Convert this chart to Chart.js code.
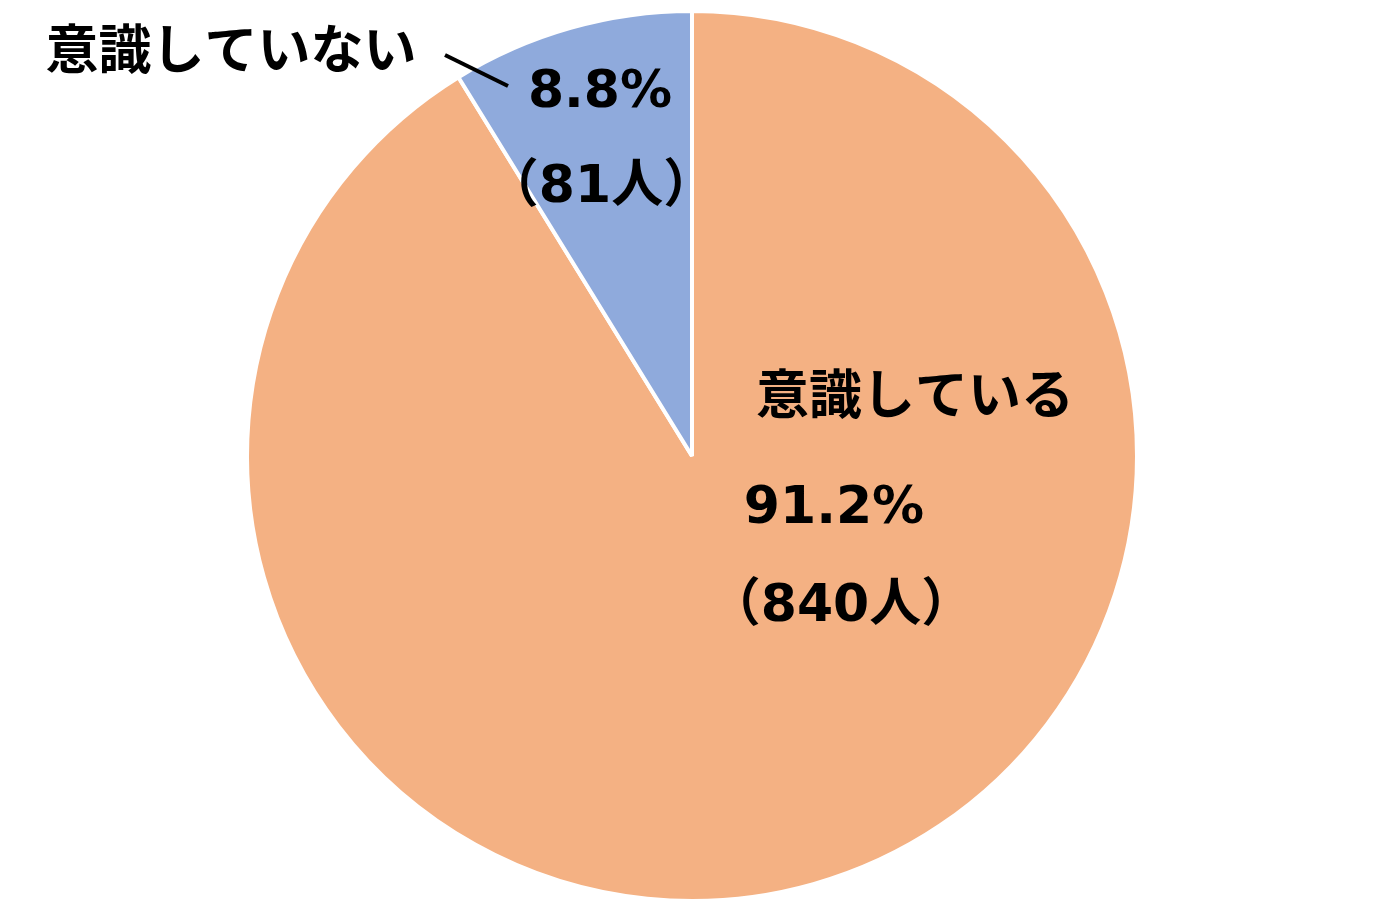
<!DOCTYPE html>
<html lang="ja">
<head>
<meta charset="utf-8">
<script src="https://cdn.jsdelivr.net/npm/chart.js@4.4.1/dist/chart.umd.min.js"></script>
<style>
  html, body { margin: 0; padding: 0; background: #ffffff; }
  #wrap { width: 1380px; height: 916px; position: relative; }
</style>
</head>
<body>
<div id="wrap"><canvas id="pie"></canvas></div>
<script>
// Chart data
const labels = ['意識している', '意識していない'];
const counts = [840, 81];
const percents = ['91.2%', '8.8%'];
const colors = ['#F4B183', '#8FAADC'];

// Label placement, offsets from the pie centre (reference radius 445)
const labelSpots = [
  { name: [223, -62], pct: [142, 53], cnt: [149, 151] },
  { name: [-461, -407], pct: [-92, -363], cnt: [-91, -268] }
];

const numFont = 'bold 52px "DejaVu Sans", "Noto Sans CJK JP", sans-serif';
const nameFont = 'bold 53px "Noto Sans CJK JP", sans-serif';

// Draws the names, percentages and counts on top of the pie
const pieLabels = {
  id: 'pieLabels',
  afterDraw(chart) {
    const arc = chart.getDatasetMeta(0).data[0];
    const cx = arc.x, cy = arc.y;
    const k = arc.outerRadius / 445;
    const ctx = chart.ctx;
    ctx.save();
    ctx.fillStyle = '#000000';
    ctx.textAlign = 'center';
    ctx.textBaseline = 'middle';

    labels.forEach((name, i) => {
      const spot = labelSpots[i];
      ctx.font = nameFont;
      ctx.fillText(name, cx + spot.name[0] * k, cy + spot.name[1] * k);
      ctx.font = numFont;
      ctx.fillText(percents[i], cx + spot.pct[0] * k, cy + spot.pct[1] * k);
      ctx.fillText('（' + counts[i] + '人）', cx + spot.cnt[0] * k, cy + spot.cnt[1] * k);
    });

    // leader line for the small slice
    ctx.strokeStyle = '#000000';
    ctx.lineWidth = 4;
    ctx.beginPath();
    ctx.moveTo(cx - 247 * k, cy - 401 * k);
    ctx.lineTo(cx - 184 * k, cy - 370 * k);
    ctx.stroke();
    ctx.restore();
  }
};

const ctx = document.getElementById('pie').getContext('2d');
const pieChart = new Chart(ctx, {
  type: 'pie',
  data: {
    labels: labels,
    datasets: [{
      data: counts,
      backgroundColor: colors,
      borderColor: '#ffffff',
      borderWidth: 4
    }]
  },
  options: {
    responsive: true,
    maintainAspectRatio: false,
    animation: false,
    layout: { padding: { top: 9, bottom: 13, left: 4, right: 0 } },
    plugins: {
      legend: { display: false },
      tooltip: { enabled: false }
    }
  },
  plugins: [pieLabels]
});
</script>
</body>
</html>
